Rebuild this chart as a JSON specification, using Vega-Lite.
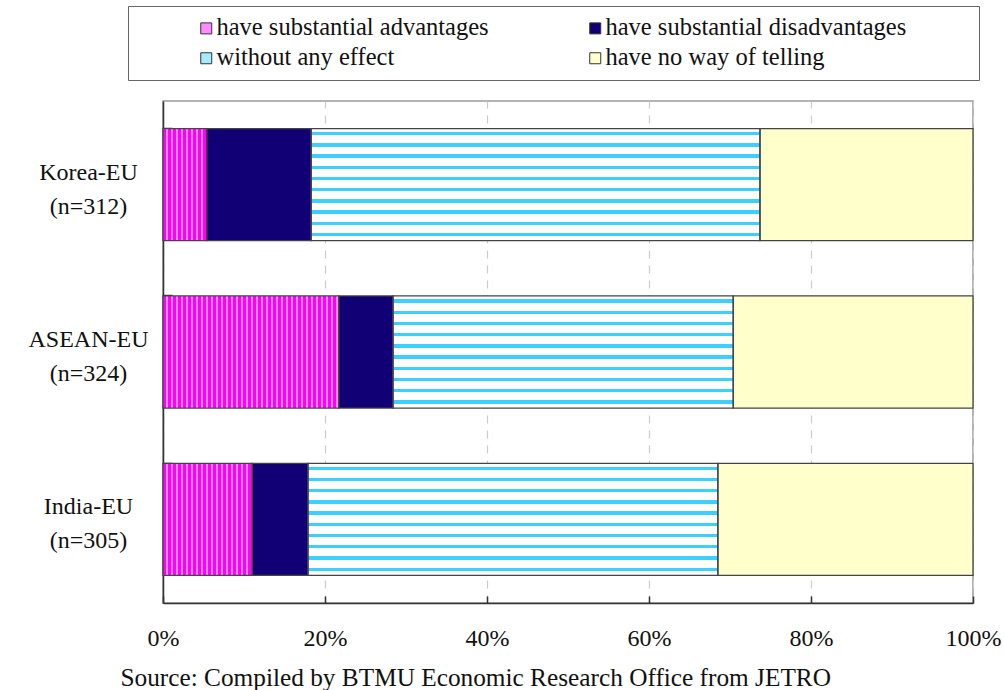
{
  "$schema": "https://vega.github.io/schema/vega-lite/v6.json",
  "width": 810,
  "height": 502,
  "autosize": {"type": "none"},
  "padding": {"left": 163, "top": 101, "right": 31, "bottom": 87},
  "background": "white",
  "config": {
    "font": "Liberation Serif",
    "view": {"stroke": "#9a9a9a", "strokeWidth": 1.5}
  },
  "data": {
    "values": [
      {"region": "Korea-EU (n=312)", "answer": "have substantial advantages", "k": 1, "value": 5.4},
      {"region": "Korea-EU (n=312)", "answer": "have substantial disadvantages", "k": 2, "value": 12.9},
      {"region": "Korea-EU (n=312)", "answer": "without any effect", "k": 3, "value": 55.4},
      {"region": "Korea-EU (n=312)", "answer": "have no way of telling", "k": 4, "value": 26.3},
      {"region": "ASEAN-EU (n=324)", "answer": "have substantial advantages", "k": 1, "value": 21.7},
      {"region": "ASEAN-EU (n=324)", "answer": "have substantial disadvantages", "k": 2, "value": 6.7},
      {"region": "ASEAN-EU (n=324)", "answer": "without any effect", "k": 3, "value": 42.0},
      {"region": "ASEAN-EU (n=324)", "answer": "have no way of telling", "k": 4, "value": 29.6},
      {"region": "India-EU (n=305)", "answer": "have substantial advantages", "k": 1, "value": 11.0},
      {"region": "India-EU (n=305)", "answer": "have substantial disadvantages", "k": 2, "value": 6.9},
      {"region": "India-EU (n=305)", "answer": "without any effect", "k": 3, "value": 50.6},
      {"region": "India-EU (n=305)", "answer": "have no way of telling", "k": 4, "value": 31.5}
    ]
  },
  "transform": [
    {"stack": "value", "groupby": ["region"], "sort": [{"field": "k", "order": "ascending"}], "as": ["x0", "x1"]}
  ],
  "encoding": {
    "y": {
      "field": "region", "type": "nominal", "sort": null,
      "scale": {"paddingInner": 0.33, "paddingOuter": 0.165},
      "axis": {
        "title": null,
        "labelExpr": "split(datum.label, ' ')",
        "labelFont": "Liberation Serif", "labelFontSize": 24, "labelColor": "#111",
        "labelAlign": "center", "labelBaseline": "middle", "labelLineHeight": 34,
        "labelOffset": -12,
        "labelPadding": 84, "tickSize": -9, "tickColor": "#333", "tickWidth": 1.5,
        "bandPosition": 0,
        "domainColor": "#333", "domainWidth": 1.5
      }
    },
    "x": {
      "field": "x0", "type": "quantitative",
      "scale": {"domain": [0, 100], "nice": false},
      "axis": {
        "values": [0, 20, 40, 60, 80, 100],
        "labelExpr": "datum.value + '%'",
        "labelFont": "Liberation Serif", "labelFontSize": 24, "labelColor": "#111",
        "labelPadding": 30, "tickSize": -7, "tickColor": "#333", "tickWidth": 1.5,
        "labelFlush": false,
        "domainColor": "#333", "domainWidth": 1.5,
        "grid": true, "gridColor": "#cccccc", "gridDash": [8, 7], "gridWidth": 1.2,
        "title": "Source: Compiled by BTMU Economic Research Office from JETRO",
        "titleFont": "Liberation Serif", "titleFontSize": 25.3, "titleFontWeight": "normal", "titleColor": "#111",
        "titleAnchor": "start", "titleAlign": "left", "titleX": -43, "titleY": 82, "titleBaseline": "alphabetic"
      }
    },
    "x2": {"field": "x1"}
  },
  "layer": [
    {
      "mark": {"type": "bar"},
      "encoding": {
        "color": {
          "field": "answer", "type": "nominal",
          "scale": {
            "domain": ["have substantial advantages", "have substantial disadvantages", "without any effect", "have no way of telling"],
            "range": ["#ff8cff", "#110075", "#a6ebff", "#ffffcc"]
          },
          "legend": {
            "orient": "none", "legendX": -35, "legendY": -95,
            "direction": "horizontal",
            "columns": 2, "title": " ", "titleOrient": "right", "titlePadding": 63, "titleFontSize": 10,
            "strokeColor": "#666", "fillColor": "#ffffff", "padding": 10,
            "symbolType": "square", "symbolSize": 121, "symbolStrokeColor": "#333", "symbolStrokeWidth": 1,
            "labelFont": "Liberation Serif", "labelFontSize": 24.5, "labelColor": "#111", "labelLimit": 500,
            "symbolOffset": 56, "labelOffset": -2, "columnPadding": 38, "rowPadding": 5
          }
        }
      }
    },
    {
      "transform": [{"filter": "datum.answer === 'without any effect'"}],
      "mark": {
        "type": "bar",
        "fill": {
          "gradient": "linear", "x1": 0, "y1": 0, "x2": 0, "y2": 1,
          "stops": [
            {"offset": 0, "color": "#ffffff"},
            {"offset": 0.03, "color": "#ffffff"}, {"offset": 0.03, "color": "#3dcfff"}, {"offset": 0.06, "color": "#3dcfff"}, {"offset": 0.06, "color": "#ffffff"},
            {"offset": 0.13, "color": "#ffffff"}, {"offset": 0.13, "color": "#3dcfff"}, {"offset": 0.16, "color": "#3dcfff"}, {"offset": 0.16, "color": "#ffffff"},
            {"offset": 0.23, "color": "#ffffff"}, {"offset": 0.23, "color": "#3dcfff"}, {"offset": 0.26, "color": "#3dcfff"}, {"offset": 0.26, "color": "#ffffff"},
            {"offset": 0.33, "color": "#ffffff"}, {"offset": 0.33, "color": "#3dcfff"}, {"offset": 0.36, "color": "#3dcfff"}, {"offset": 0.36, "color": "#ffffff"},
            {"offset": 0.43, "color": "#ffffff"}, {"offset": 0.43, "color": "#3dcfff"}, {"offset": 0.46, "color": "#3dcfff"}, {"offset": 0.46, "color": "#ffffff"},
            {"offset": 0.53, "color": "#ffffff"}, {"offset": 0.53, "color": "#3dcfff"}, {"offset": 0.56, "color": "#3dcfff"}, {"offset": 0.56, "color": "#ffffff"},
            {"offset": 0.63, "color": "#ffffff"}, {"offset": 0.63, "color": "#3dcfff"}, {"offset": 0.66, "color": "#3dcfff"}, {"offset": 0.66, "color": "#ffffff"},
            {"offset": 0.73, "color": "#ffffff"}, {"offset": 0.73, "color": "#3dcfff"}, {"offset": 0.76, "color": "#3dcfff"}, {"offset": 0.76, "color": "#ffffff"},
            {"offset": 0.83, "color": "#ffffff"}, {"offset": 0.83, "color": "#3dcfff"}, {"offset": 0.86, "color": "#3dcfff"}, {"offset": 0.86, "color": "#ffffff"},
            {"offset": 0.93, "color": "#ffffff"}, {"offset": 0.93, "color": "#3dcfff"}, {"offset": 0.96, "color": "#3dcfff"}, {"offset": 0.96, "color": "#ffffff"},
            {"offset": 1, "color": "#ffffff"}
          ]
        }
      },
      "encoding": {}
    },
    {
      "transform": [{"filter": "datum.answer === 'have substantial advantages'"}],
      "mark": {"type": "rule", "color": "#ff00ff", "strokeWidth": 112, "strokeDash": [3, 2], "strokeCap": "butt"},
      "encoding": {}
    },
    {
      "mark": {"type": "bar", "fill": null, "fillOpacity": 0, "stroke": "#444444", "strokeWidth": 1.3},
      "encoding": {}
    }
  ]
}
